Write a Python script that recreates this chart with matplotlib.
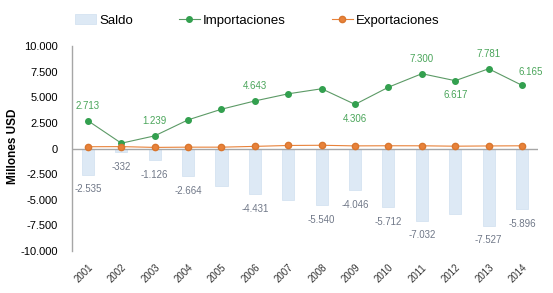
import matplotlib.pyplot as plt
import matplotlib.ticker as mticker
import numpy as np

plt.rcParams['font.family'] = ['Liberation Sans', 'DejaVu Sans']

years = ['2001', '2002', '2003', '2004', '2005', '2006', '2007',
         '2008', '2009', '2010', '2011', '2012', '2013', '2014']
importaciones = [2713, 520, 1239, 2800, 3835, 4643, 5340,
                 5830, 4306, 5985, 7300, 6617, 7781, 6165]
exportaciones = [178, 188, 113, 136, 135, 212, 300,
                 320, 260, 273, 268, 230, 254, 269]
saldo = [-2535, -332, -1126, -2664, -3700, -4431, -5040,
         -5540, -4046, -5712, -7032, -6387, -7527, -5896]

# which points get a value label, and where (above / below)
imp_labels = {0: 'up', 2: 'up', 5: 'up', 8: 'down', 10: 'up', 11: 'down', 12: 'up', 13: 'upright'}
saldo_labels = [0, 1, 2, 3, 5, 7, 8, 9, 10, 12, 13]


def fmt_es(v):
    return f'{v:,.0f}'.replace(',', '.')


fig = plt.figure(figsize=(5.53, 2.93), dpi=100)
ax = fig.add_axes([0.130, 0.143, 0.843, 0.70])

x = np.arange(len(years))
green = '#33a04f'
orange = '#e8823a'
lab_green = '#4aa55a'

b = ax.bar(x, saldo, width=0.36, color='#dde9f5', edgecolor='#cfdfef', linewidth=0.5,
           label='Saldo', zorder=1)
ax.axhline(0, color='#a6a6a6', linewidth=1.0, zorder=2)
l1, = ax.plot(x, importaciones, color='#5c9a66', linewidth=0.8, marker='o', markersize=4,
              markerfacecolor=green, markeredgecolor=green, label='Importaciones', zorder=3)
l2, = ax.plot(x, exportaciones, color=orange, linewidth=0.8, marker='o', markersize=4.5,
              markerfacecolor=orange, markeredgecolor='#d9762e', label='Exportaciones', zorder=3)

for i, pos in imp_labels.items():
    v = importaciones[i]
    if pos == 'up':
        ax.annotate(fmt_es(v), (x[i], v), xytext=(0, 7), textcoords='offset points',
                    ha='center', va='bottom', fontsize=7, color=lab_green)
    elif pos == 'upright':
        ax.annotate(fmt_es(v), (x[i], v), xytext=(6, 6), textcoords='offset points',
                    ha='center', va='bottom', fontsize=7, color=lab_green)
    else:
        ax.annotate(fmt_es(v), (x[i], v), xytext=(0, -7), textcoords='offset points',
                    ha='center', va='top', fontsize=7, color=lab_green)

for i in saldo_labels:
    v = saldo[i]
    ax.annotate(fmt_es(v), (x[i], v), xytext=(0, -7), textcoords='offset points',
                ha='center', va='top', fontsize=7, color='#707888')

ax.set_xlim(-0.48, 13.48)
ax.set_ylim(-10000, 10000)
ax.set_yticks(np.arange(-10000, 10001, 2500))
ax.yaxis.set_major_formatter(mticker.FuncFormatter(lambda v, p: fmt_es(v)))
ax.set_xticks(x)
ax.set_xticklabels(years, rotation=45, ha='right', rotation_mode='anchor', fontsize=7,
                   color='#333333')
ax.tick_params(axis='y', labelsize=8, length=0, pad=10)
ax.tick_params(axis='x', length=0, pad=8)

for s in ['top', 'right', 'bottom']:
    ax.spines[s].set_visible(False)
ax.spines['left'].set_color('#a6a6a6')
ax.spines['left'].set_linewidth(1.0)

fig.text(0.024, 0.50, 'Millones USD', rotation=90, ha='center', va='center',
         fontsize=8.5, fontweight='bold')

fig.legend(handles=[b, l1, l2], loc='center', bbox_to_anchor=(0.465, 0.93), ncol=3,
           frameon=False, fontsize=9.5, handlelength=1.6, columnspacing=3.5,
           handletextpad=0.2)

fig.savefig('out.png', dpi=100)
